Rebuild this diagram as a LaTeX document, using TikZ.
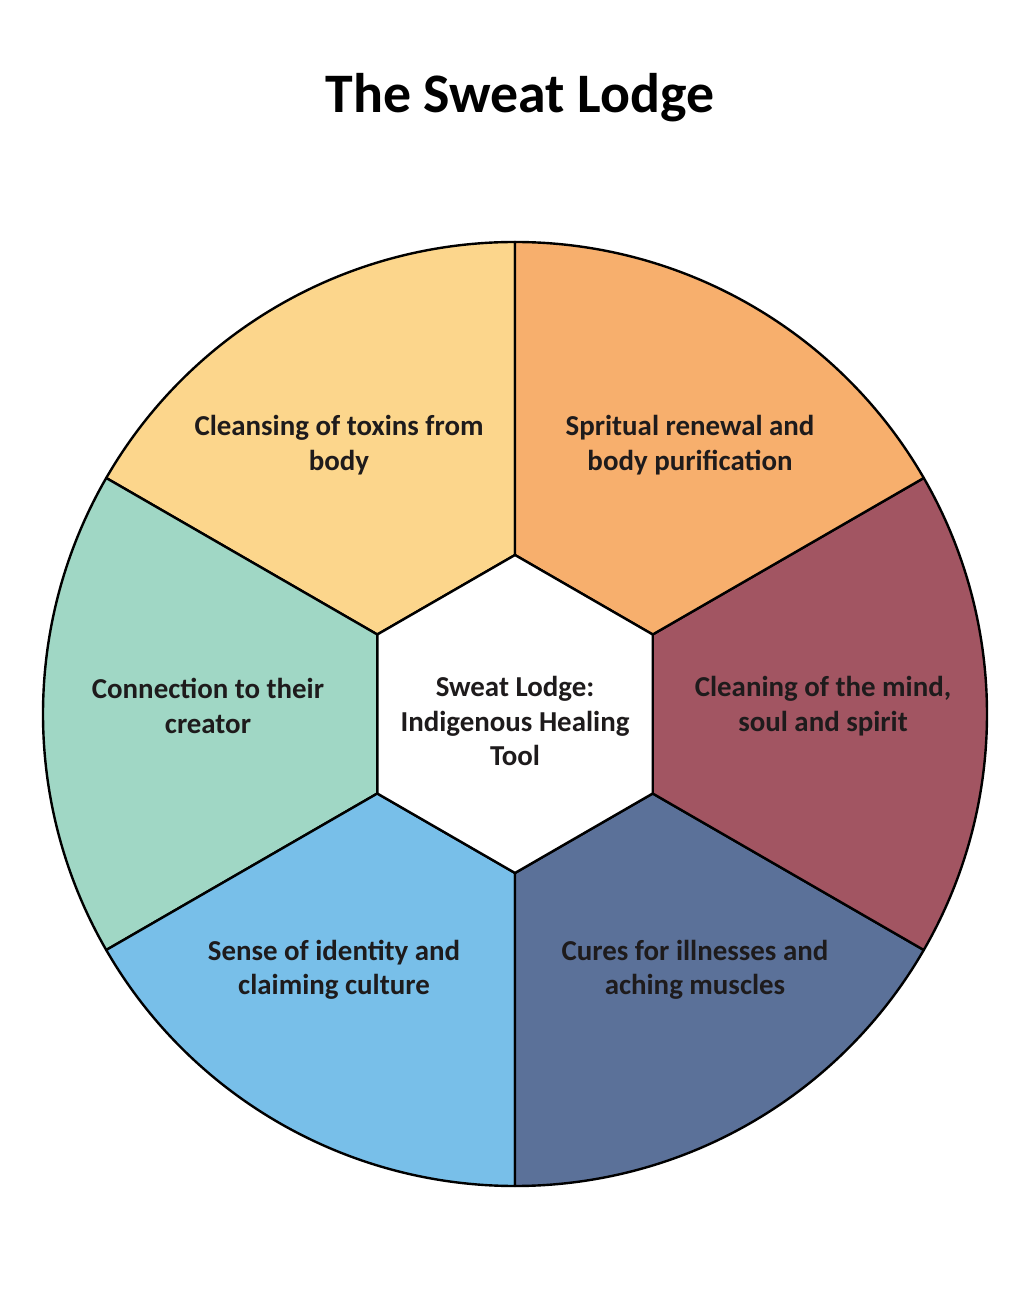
\documentclass[tikz,border=0pt]{standalone}
\usepackage{fontspec}
\setmainfont{Carlito}
\definecolor{cyellow}{HTML}{FCD68C}
\definecolor{corange}{HTML}{F7AF6D}
\definecolor{cmaroon}{HTML}{A25562}
\definecolor{cslate}{HTML}{5B7199}
\definecolor{clblue}{HTML}{78BFE9}
\definecolor{cgreen}{HTML}{A0D7C5}
\definecolor{ctext}{HTML}{1E1B1C}
\begin{document}
\begin{tikzpicture}[x=1bp,y=1bp,
  sector/.style={draw=black,line width=2.4bp,line join=round},
  label/.style={text=ctext,align=center,font=\bfseries\fontsize{29}{34.5}\selectfont,inner sep=0pt}]
\useasboundingbox[fill=white] (-515,-592) rectangle (502,714);
% sectors
\filldraw[sector,fill=cyellow] (90:159) -- (90:472) arc[start angle=90,end angle=150,radius=472] -- (150:159) -- cycle;
\filldraw[sector,fill=cgreen] (150:159) -- (150:472) arc[start angle=150,end angle=210,radius=472] -- (210:159) -- cycle;
\filldraw[sector,fill=clblue] (210:159) -- (210:472) arc[start angle=210,end angle=270,radius=472] -- (270:159) -- cycle;
\filldraw[sector,fill=cslate] (270:159) -- (270:472) arc[start angle=270,end angle=330,radius=472] -- (330:159) -- cycle;
\filldraw[sector,fill=cmaroon] (330:159) -- (330:472) arc[start angle=330,end angle=390,radius=472] -- (390:159) -- cycle;
\filldraw[sector,fill=corange] (30:159) -- (30:472) arc[start angle=30,end angle=90,radius=472] -- (90:159) -- cycle;
\filldraw[sector,fill=white] (90:159) -- (150:159) -- (210:159) -- (270:159) -- (330:159) -- (30:159) -- cycle;
% title
\node[anchor=base,text=black,font=\bfseries\fontsize{56}{60}\selectfont,inner sep=0pt] (title) at (5,601) {The Sweat Lodge};
% labels
\node[label] (center) at (0,-7) {Sweat Lodge:\\Indigenous Healing\\Tool};
\node[label] (tl) at (-176,269) {Cleansing of toxins from\\body};
\node[label] (tr) at (175,269) {Spritual renewal and\\body purification};
\node[label] (l) at (-307,8) {Connection to their\\creator};
\node[label] (r) at (308,8) {Cleaning of the mind,\\soul and spirit};
\node[label] (bl) at (-181,-256) {Sense of identity and\\claiming culture};
\node[label] (br) at (180,-256) {Cures for illnesses and\\aching muscles};
\end{tikzpicture}
\end{document}
